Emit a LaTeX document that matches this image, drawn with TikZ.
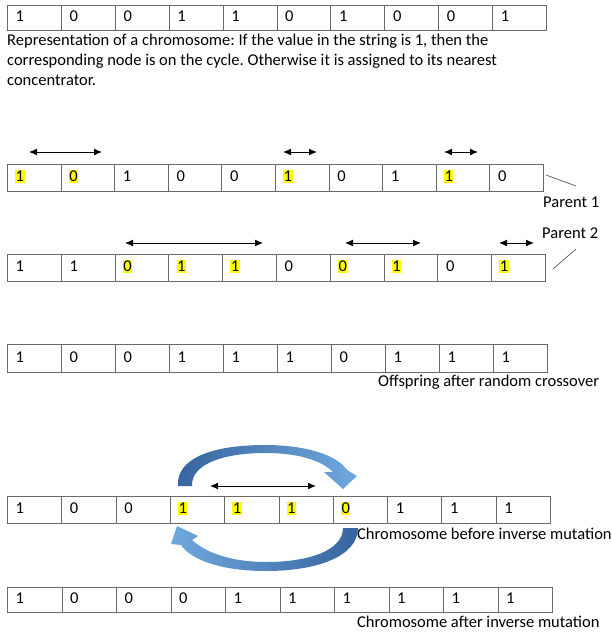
\documentclass[tikz,border=0pt]{standalone}
\usepackage{fontspec}
\setmainfont{Carlito}
\usetikzlibrary{arrows.meta,calc}
\frenchspacing

\definecolor{hl}{RGB}{255,255,0}
\definecolor{cellline}{RGB}{105,105,105}
\definecolor{arrdark}{RGB}{55,100,158}
\definecolor{arrlight}{RGB}{112,168,222}
\definecolor{leader}{RGB}{90,90,90}

\tikzset{
  cell/.style={draw=cellline, line width=0.9pt, inner sep=0pt, anchor=north west},
  digit/.style={inner xsep=0.5pt, inner ysep=1pt, anchor=west, font=\fontsize{16.5}{18}\selectfont},
  label/.style={inner sep=0pt, anchor=west, font=\fontsize{16.5}{18}\selectfont},
  dbl/.style={{Latex[length=8pt,width=7pt]}-{Latex[length=8pt,width=7pt]}, line width=1pt},
  leaderline/.style={draw=leader, line width=0.7pt},
  bluearrow/.style={draw=none}
}

% \chromrow{name}{top}{bottom}{right}{digit/fill list}
\newcommand\chromrow[5]{%
  \pgfmathsetmacro\cw{(#4-7)/10}%
  \pgfmathsetmacro\ch{#3-#2}%
  \foreach \d/\f [count=\i] in {#5}{%
    \pgfmathsetmacro\cx{7+(\i-1)*\cw}%
    \node[cell, minimum width=\cw pt, minimum height=\ch pt] (#1c\i) at (\cx,#2) {};
    \node[digit, fill=\f] (#1d\i) at ($(#1c\i.west)+(8,-1.5)$) {\d};
  }%
}

\begin{document}
\begin{tikzpicture}[x=1pt,y=-1pt]
\useasboundingbox[fill=white] (0,0) rectangle (612,633);

% plain chromosome with caption
\chromrow{rep}{5}{30}{546}{1/none,0/none,0/none,1/none,1/none,0/none,1/none,0/none,0/none,1/none}
\node[label, anchor=north west, align=left, font=\fontsize{16.5}{20}\selectfont] (caption) at (7,33.5)
  {Representation of a chromosome: If the value in the string is 1, then the\\
   corresponding node is on the cycle. Otherwise it is assigned to its nearest\\
   concentrator.};

% parents
\chromrow{pa}{164}{191}{543}{1/hl,0/hl,1/none,0/none,0/none,1/hl,0/none,1/none,1/hl,0/none}
\chromrow{pb}{254}{281}{545}{1/none,1/none,0/hl,1/hl,1/hl,0/none,0/hl,1/hl,0/none,1/hl}

% crossover segments
\coordinate (a1s) at (29,152);  \coordinate (a1e) at (102,152);
\coordinate (a2s) at (283,152); \coordinate (a2e) at (317,152);
\coordinate (a3s) at (444,152); \coordinate (a3e) at (478,152);
\coordinate (b1s) at (125,243); \coordinate (b1e) at (263,243);
\coordinate (b2s) at (345,243); \coordinate (b2e) at (421,243);
\coordinate (b3s) at (499,243); \coordinate (b3e) at (534,243);
\draw[dbl] (a1s) -- (a1e);
\draw[dbl] (a2s) -- (a2e);
\draw[dbl] (a3s) -- (a3e);
\draw[dbl] (b1s) -- (b1e);
\draw[dbl] (b2s) -- (b2e);
\draw[dbl] (b3s) -- (b3e);

% parent labels with leader lines
\node[label] (par1) at (543,202) {Parent 1};
\node[label] (par2) at (542,233) {Parent 2};
\coordinate (l1s) at (546,175); \coordinate (l1e) at (576,186);
\coordinate (l2s) at (553,269); \coordinate (l2e) at (576,249);
\draw[leaderline] (l1s) -- (l1e);
\draw[leaderline] (l2s) -- (l2e);

% offspring
\chromrow{off}{344}{372}{547}{1/none,0/none,0/none,1/none,1/none,1/none,0/none,1/none,1/none,1/none}
\node[label] (offlab) at (378,382) {Offspring after random crossover};

% inverse mutation
\chromrow{bef}{496}{523}{550}{1/none,0/none,0/none,1/hl,1/hl,1/hl,0/hl,1/none,1/none,1/none}
\node[label] (beflab) at (357,534) {Chromosome before inverse mutation};
\coordinate (m1s) at (210,486); \coordinate (m1e) at (316,486);
\draw[dbl] (m1s) -- (m1e);

% curved arrow over the segment
\path[left color=arrdark, right color=arrlight, bluearrow]
  (178,486) .. controls (176,458) and (213,445) .. (265,445)
  .. controls (306,445) and (337,455) .. (347,470)
  -- (357,476) -- (343,489) -- (324,472) -- (333,472)
  .. controls (322,461) and (300,453) .. (265,453)
  .. controls (226,453) and (191,463) .. (192,486) -- cycle;

% curved arrow under the segment
\path[left color=arrlight, right color=arrdark, bluearrow]
  (358,528) .. controls (358,555) and (320,571) .. (266,571)
  .. controls (224,571) and (192,561) .. (181,545)
  -- (171,544) -- (177,526) -- (198,536) -- (192,540)
  .. controls (206,553) and (232,562) .. (266,562)
  .. controls (310,562) and (343,550) .. (343,528) -- cycle;

\chromrow{aft}{587}{612}{552}{1/none,0/none,0/none,0/none,1/none,1/none,1/none,1/none,1/none,1/none}
\node[label] (aftlab) at (357,622) {Chromosome after inverse mutation};
\end{tikzpicture}
\end{document}
